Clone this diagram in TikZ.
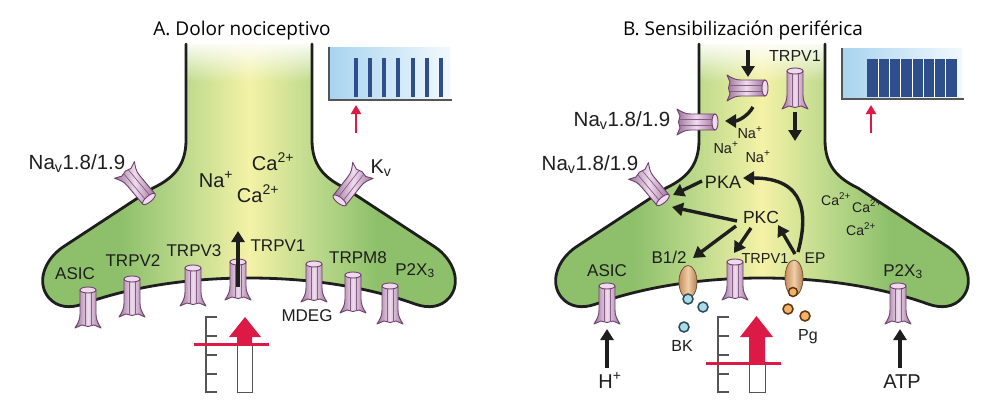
\documentclass[tikz,border=0pt]{standalone}
\usepackage{fontspec}
\setmainfont{Liberation Sans}
\newfontfamily\titlefont{Open Sans}
\usetikzlibrary{arrows.meta,fadings}
\definecolor{cg}{HTML}{8EC06C}
\definecolor{cl}{HTML}{BAD88A}
\definecolor{cy}{HTML}{F4F2A6}
\definecolor{ink}{HTML}{1E1E1E}
\definecolor{chf}{HTML}{C48FC1}
\definecolor{chl}{HTML}{F0DBEE}
\definecolor{cho}{HTML}{6E406C}
\definecolor{rasterbg}{HTML}{A8D4EF}
\definecolor{rasterbar}{HTML}{2F4F8C}
\definecolor{stimred}{HTML}{DC1A45}
\definecolor{tanA}{HTML}{C58D5E}
\definecolor{tanB}{HTML}{F1CFA6}
\definecolor{bkf}{HTML}{A8DCEB}
\definecolor{bkd}{HTML}{2D4A55}
\definecolor{pgc}{HTML}{F2B268}
\definecolor{pgd}{HTML}{5E3510}
\definecolor{scalegray}{HTML}{555555}
\pgfdeclarehorizontalshading{cellsh}{100bp}{color(0bp)=(cg); color(35bp)=(cg); color(42bp)=(cl); color(50bp)=(cy); color(58bp)=(cl); color(65bp)=(cg); color(100bp)=(cg)}
\tikzset{
  fs/.style={font=\fontsize{#1}{#1}\selectfont, /utils/exec={\pgfmathsetmacro\fsh{0.72*#1}}, text height=\fsh pt, text depth=0pt, inner sep=0pt, text=ink},
  ttl/.style={font=\titlefont\fontsize{19}{21}\selectfont, text=black, inner sep=0pt, anchor=base},
  arr/.style={draw=ink, line width=3.4pt, -{Triangle[length=11pt,width=13pt]}},
  redarr/.style={draw=stimred, line width=2.6pt, -{Triangle[length=9pt,width=10pt]}},
  memb/.style={draw=ink, line width=2.8pt, line join=round, line cap=round},
  rcpt/.style={draw=tanA!60!black, line width=0.8pt, left color=tanA, right color=tanA!90!black, middle color=tanB},
  bkball/.style={draw=bkd, line width=1.5pt, fill=bkf},
  pgball/.style={draw=pgd, line width=1.5pt, fill=pgc},
  tickline/.style={draw=scalegray, line width=1.3pt},
  chan/.pic={
    \path[draw=cho, line width=0.9pt, line join=round, left color=chf!80!black, right color=chf!80!black, middle color=chl]
      (-8,-17) -- (-8,7) .. controls (-8,13) and (-10,16) .. (-13,21) -- (-6,18) -- (0,19.5) -- (6,18) -- (13,21) .. controls (10,16) and (8,13) .. (8,7) -- (8,-17) -- cycle;
    \draw[cho!85, line width=0.7pt] (-3,-15) -- (-3,18.5) (3,-15) -- (3,18.5);
    \draw[cho, line width=0.9pt, fill=chl] (0,-17) ellipse [x radius=8, y radius=3];
  }
}
\def\cellpath{(-63,44) -- (-63,140) .. controls (-63,165) and (-75,178) .. (-96,188) -- (-186,247) .. controls (-205,260) and (-213,283) .. (-200,298) .. controls (-192,307) and (-180,309) .. (-166,304) .. controls (-110,284) and (-50,278) .. (0,278) .. controls (50,278) and (110,284) .. (166,304) .. controls (180,309) and (192,307) .. (200,298) .. controls (213,283) and (205,260) .. (186,247) -- (96,188) .. controls (75,178) and (63,165) .. (63,140) -- (63,44)}
\begin{document}
\begin{tikzpicture}[x=1pt,y=-1pt]
\useasboundingbox (0,0) rectangle (994,407);
% cells
\foreach \cx in {249,762} {
  \begin{scope}[shift={(\cx,0)}]
    \path[shading=cellsh] \cellpath -- cycle;
    \fill[white, path fading=south] (-70,40) rectangle (70,82);
    \draw[memb] \cellpath;
  \end{scope}
}
% titles
\node[ttl] (titleA) at (242,35) {A. Dolor nociceptivo};
\node[ttl] (titleB) at (743,35) {B. Sensibilización periférica};

% ===== Panel A =====
\pic (chAsicA) at (88,307) {chan};
\pic (chTrpvtwoA) at (132,296) {chan};
\pic (chTrpvthreeA) at (193,285) {chan};
\pic (chTrpvoneA) at (238,279) {chan};
\pic (chMdegA) at (314,281) {chan};
\pic (chTrpmA) at (353,292) {chan};
\pic (chPtwoA) at (390,303) {chan};
\pic[rotate=220] (chNavA) at (138,186) {chan};
\pic[rotate=142] (chKvA) at (350,187) {chan};

\coordinate (a1s) at (238,287);
\coordinate (a1e) at (238,231);
\draw[arr] (a1s) -- (a1e);

\node[fs=20.5] (navA) at (77,162) {Na\textsubscript{v}1.8/1.9};
\node[fs=20] (kvA) at (381,166) {K\textsubscript{v}};
\node[fs=20] (naA) at (216,180) {Na\textsuperscript{+}};
\node[fs=20] (caoneA) at (273,163) {Ca\textsuperscript{2+}};
\node[fs=20] (catwoA) at (258,195) {Ca\textsuperscript{2+}};
\node[fs=17] (asicA) at (75,273) {ASIC};
\node[fs=17] (trpvtwoA) at (133,260) {TRPV2};
\node[fs=17] (trpvthreeA) at (194,250) {TRPV3};
\node[fs=17] (trpvoneA) at (278,245) {TRPV1};
\node[fs=17] (mdegA) at (307,315) {MDEG};
\node[fs=17] (trpmA) at (358,257) {TRPM8};
\node[fs=17] (ptwoA) at (415,269) {P2X\textsubscript{3}};

% raster A
\path[left color=rasterbg, right color=rasterbg!15] (329,47) rectangle (450,100);
\draw[scalegray, line width=1.2pt] (329,47) -- (329,100) -- (452,100);
\foreach \x in {356,370,384,398,413,427,441} \fill[rasterbar] (\x-2,58) rectangle (\x+2,97);
\coordinate (rAs) at (356,133);
\coordinate (rAe) at (356,105);
\draw[redarr] (rAs) -- (rAe);

% stimulus A
\draw[tickline] (217,317) -- (206,317) -- (206,392) -- (217,392);
\foreach \y in {336,355,374} \draw[tickline] (206,\y) -- (217,\y);
\fill[stimred] (229,337) -- (245,317) -- (261,337) -- (252,337) -- (252,344) -- (237,344) -- (237,337) -- cycle;
\draw[scalegray, line width=1pt] (237,344) -- (237,392) -- (252,392) -- (252,344);
\draw[stimred, line width=3pt] (194,344) -- (269,344);

% ===== Panel B =====
\pic (chTopB) at (795,88) {chan};
\pic[rotate=-90] (chHorB) at (748,88) {chan};
\pic[rotate=-90] (chNavoneB) at (698,122) {chan};
\pic[rotate=220] (chNavtwoB) at (652,187) {chan};
\pic (chTrpvB) at (735,279) {chan};
\pic (chAsicB) at (607,303) {chan};
\pic (chPtwoB) at (898,303) {chan};

\path[rcpt] (688,282) ellipse [x radius=9, y radius=16.5];
\path[rcpt] (794,278) ellipse [x radius=9, y radius=18];
\path[pgball] (793,292) circle [radius=4.5];
\path[bkball] (688,299) circle [radius=5];
\path[bkball] (703,307) circle [radius=5];
\path[bkball] (684,327) circle [radius=5];
\path[pgball] (788,309) circle [radius=5];
\path[pgball] (805,316) circle [radius=5];

\coordinate (d1s) at (748,50);   \coordinate (d1e) at (748,77);
\coordinate (d2s) at (795,112);  \coordinate (d2e) at (795,141);
\coordinate (c1s) at (753,107);  \coordinate (c1e) at (725,121);
\coordinate (pkaS) at (702,181); \coordinate (pkaE) at (673,195);
\coordinate (pkcN) at (737,221); \coordinate (navE) at (672,207);
\coordinate (pkcB) at (736,226); \coordinate (bE) at (693,258);
\coordinate (pkcT) at (751,228); \coordinate (tE) at (734,253);
\coordinate (epA) at (795,254);  \coordinate (pkcE) at (778,225);
\coordinate (epB) at (798,252);  \coordinate (pkaR) at (743,178);
\coordinate (hS) at (607,368);   \coordinate (hE) at (607,329);
\coordinate (atpS) at (900,368); \coordinate (atpE) at (900,329);
\draw[arr] (d1s) -- (d1e);
\draw[arr] (d2s) -- (d2e);
\draw[arr] (c1s) .. controls (748,116) and (738,121) .. (c1e);
\draw[arr] (pkaS) -- (pkaE);
\draw[arr] (pkcN) -- (navE);
\draw[arr] (pkcB) -- (bE);
\draw[arr] (pkcT) -- (tE);
\draw[arr] (epA) -- (pkcE);
\draw[arr] (epB) .. controls (808,215) and (806,178) .. (pkaR);
\draw[arr] (hS) -- (hE);
\draw[arr] (atpS) -- (atpE);

\node[fs=16] (trpvtopB) at (795,56) {TRPV1};
\node[fs=20.5] (navoneB) at (622,119) {Na\textsubscript{v}1.8/1.9};
\node[fs=20.5] (navtwoB) at (590,163) {Na\textsubscript{v}1.8/1.9};
\node[fs=14.5] (naoneB) at (750,133) {Na\textsuperscript{+}};
\node[fs=14.5] (natwoB) at (726,148) {Na\textsuperscript{+}};
\node[fs=14.5] (nathreeB) at (758,157) {Na\textsuperscript{+}};
\node[fs=18] (pkaB) at (723,182) {PKA};
\node[fs=17.5] (pkcB) at (761,217) {PKC};
\node[fs=17] (btwoB) at (669,257) {B1/2};
\node[fs=14.5] (trpvB) at (765,258) {TRPV1};
\node[fs=15.5] (epBl) at (815,258) {EP};
\node[fs=17] (asicB) at (607,270) {ASIC};
\node[fs=17] (ptwoB) at (903,270) {P2X\textsubscript{3}};
\node[fs=20] (hB) at (610,381) {H\textsuperscript{+}};
\node[fs=20] (atpB) at (902,381) {ATP};
\node[fs=16] (bkB) at (682,346) {BK};
\node[fs=16] (pgB) at (808,335) {Pg};
\node[fs=14] (caoneB) at (836,200) {Ca\textsuperscript{2+}};
\node[fs=14] (catwoB) at (867,207) {Ca\textsuperscript{2+}};
\node[fs=14] (cathreeB) at (861,230) {Ca\textsuperscript{2+}};

% raster B
\path[left color=rasterbg, right color=rasterbg!15] (842,48) rectangle (962,99);
\draw[scalegray, line width=1.2pt] (842,48) -- (842,99) -- (964,99);
\fill[rasterbar] (867,59) rectangle (957,97);
\foreach \k in {1,...,7} \draw[white, line width=0.9pt] (867+11.25*\k,59) -- (867+11.25*\k,97);
\coordinate (rBs) at (871,133);
\coordinate (rBe) at (871,105);
\draw[redarr] (rBs) -- (rBe);

% stimulus B
\draw[tickline] (729,317) -- (718,317) -- (718,392) -- (729,392);
\foreach \y in {336,355,374} \draw[tickline] (718,\y) -- (729,\y);
\fill[stimred] (740,337) -- (756.5,316) -- (773,337) -- (765,337) -- (765,363) -- (749,363) -- (749,337) -- cycle;
\draw[scalegray, line width=1pt] (749,363) -- (749,392) -- (765,392) -- (765,363);
\draw[stimred, line width=3pt] (706,363) -- (781,363);
\end{tikzpicture}
\end{document}
